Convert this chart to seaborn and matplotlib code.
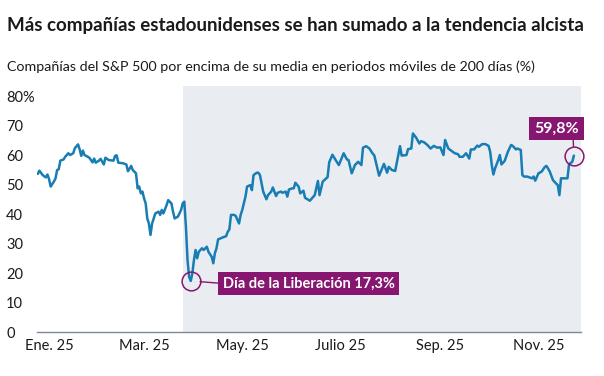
import pandas as pd
import numpy as np
import seaborn as sns
import matplotlib.pyplot as plt
import matplotlib.dates as mdates

# % of S&P 500 companies above their 200-day moving average
dates = [
    "2024-12-25", "2024-12-26", "2024-12-28", "2024-12-30", "2024-12-31",
    "2025-01-01", "2025-01-02", "2025-01-04", "2025-01-05", "2025-01-06",
    "2025-01-07", "2025-01-08", "2025-01-10", "2025-01-11", "2025-01-13",
    "2025-01-14", "2025-01-16", "2025-01-17", "2025-01-19", "2025-01-20",
    "2025-01-21", "2025-01-22", "2025-01-23", "2025-01-24", "2025-01-26",
    "2025-01-28", "2025-01-29", "2025-01-30", "2025-02-01", "2025-02-02",
    "2025-02-04", "2025-02-05", "2025-02-07", "2025-02-10", "2025-02-11",
    "2025-02-12", "2025-02-13", "2025-02-16", "2025-02-18", "2025-02-19",
    "2025-02-21", "2025-02-22", "2025-02-24", "2025-02-25", "2025-02-26",
    "2025-02-27", "2025-02-28", "2025-03-01", "2025-03-02", "2025-03-03",
    "2025-03-04", "2025-03-05", "2025-03-06", "2025-03-07", "2025-03-08",
    "2025-03-10", "2025-03-11", "2025-03-12", "2025-03-13", "2025-03-15",
    "2025-03-16", "2025-03-18", "2025-03-19", "2025-03-20", "2025-03-22",
    "2025-03-23", "2025-03-24", "2025-03-25", "2025-03-26", "2025-03-27",
    "2025-03-28", "2025-03-29", "2025-03-30", "2025-03-31", "2025-04-01",
    "2025-04-02", "2025-04-03", "2025-04-04", "2025-04-06", "2025-04-07",
    "2025-04-09", "2025-04-10", "2025-04-12", "2025-04-13", "2025-04-14",
    "2025-04-15", "2025-04-16", "2025-04-19", "2025-04-21", "2025-04-22",
    "2025-04-23", "2025-04-24", "2025-04-26", "2025-04-27", "2025-04-29",
    "2025-04-30", "2025-05-01", "2025-05-03", "2025-05-04", "2025-05-06",
    "2025-05-07", "2025-05-08", "2025-05-10", "2025-05-11", "2025-05-12",
    "2025-05-14", "2025-05-16", "2025-05-17", "2025-05-19", "2025-05-20",
    "2025-05-22", "2025-05-23", "2025-05-25", "2025-05-26", "2025-05-28",
    "2025-05-29", "2025-05-30", "2025-06-01", "2025-06-02", "2025-06-03",
    "2025-06-05", "2025-06-06", "2025-06-08", "2025-06-09", "2025-06-12",
    "2025-06-15", "2025-06-17", "2025-06-18", "2025-06-20", "2025-06-23",
    "2025-06-24", "2025-06-26", "2025-06-28", "2025-06-30", "2025-07-03",
    "2025-07-05", "2025-07-06", "2025-07-08", "2025-07-10", "2025-07-12",
    "2025-07-14", "2025-07-15", "2025-07-17", "2025-07-19", "2025-07-21",
    "2025-07-22", "2025-07-25", "2025-07-28", "2025-07-30", "2025-07-31",
    "2025-08-02", "2025-08-04", "2025-08-07", "2025-08-08", "2025-08-11",
    "2025-08-12", "2025-08-14", "2025-08-15", "2025-08-17", "2025-08-19",
    "2025-08-20", "2025-08-22", "2025-08-24", "2025-08-26", "2025-08-28",
    "2025-08-30", "2025-09-01", "2025-09-03", "2025-09-04", "2025-09-06",
    "2025-09-08", "2025-09-10", "2025-09-12", "2025-09-13", "2025-09-15",
    "2025-09-17", "2025-09-19", "2025-09-20", "2025-09-22", "2025-09-24",
    "2025-09-25", "2025-09-27", "2025-09-29", "2025-10-01", "2025-10-02",
    "2025-10-03", "2025-10-04", "2025-10-05", "2025-10-07", "2025-10-08",
    "2025-10-09", "2025-10-11", "2025-10-13", "2025-10-15", "2025-10-16",
    "2025-10-18", "2025-10-19", "2025-10-21", "2025-10-22", "2025-10-23",
    "2025-10-25", "2025-10-28", "2025-10-29", "2025-10-30", "2025-11-01",
    "2025-11-03", "2025-11-05", "2025-11-06", "2025-11-08", "2025-11-10",
    "2025-11-12", "2025-11-13", "2025-11-14", "2025-11-15", "2025-11-17",
    "2025-11-19", "2025-11-20", "2025-11-22", "2025-11-23",
]
pct_above = [
    53.6, 54.7, 53.2, 52.4, 53.4, 51.8, 49.3, 51.0, 52.1, 54.9,
    55.2, 58.1, 58.5, 59.4, 60.6, 60.0, 60.6, 62.3, 63.6, 61.9,
    59.7, 61.5, 60.0, 59.7, 59.1, 57.5, 58.8, 57.4, 58.1, 58.7,
    56.8, 59.1, 58.3, 58.1, 59.7, 59.9, 57.4, 57.2, 56.8, 54.5,
    56.3, 54.9, 53.8, 48.7, 49.3, 47.0, 47.6, 45.3, 43.6, 38.5,
    36.8, 32.9, 36.8, 38.5, 40.2, 40.8, 39.7, 41.4, 40.2, 43.0,
    44.7, 43.6, 40.8, 38.5, 39.1, 40.2, 41.4, 43.6, 44.2, 35.7,
    24.4, 18.7, 17.3, 19.9, 24.4, 27.8, 25.0, 27.2, 28.4, 27.8,
    28.9, 27.2, 25.5, 23.3, 26.7, 28.4, 31.4, 32.1, 32.5, 34.0,
    34.8, 39.7, 39.7, 39.3, 36.8, 39.7, 41.4, 45.9, 49.3, 49.8,
    48.1, 53.2, 54.0, 54.0, 53.2, 47.6, 45.0, 46.4, 47.6, 49.0,
    46.1, 47.2, 47.6, 47.2, 47.6, 45.9, 48.3, 48.7, 48.7, 50.6,
    49.3, 47.0, 47.9, 45.5, 44.5, 46.4, 51.2, 46.4, 51.0, 52.5,
    57.5, 60.1, 58.3, 56.6, 60.6, 58.5, 58.3, 53.8, 56.6, 57.7,
    56.6, 62.5, 63.0, 62.2, 60.5, 59.9, 53.0, 57.0, 54.0, 56.0,
    54.9, 54.6, 63.0, 59.8, 60.0, 62.0, 62.2, 67.3, 65.9, 63.9,
    64.7, 64.3, 63.4, 62.2, 63.1, 62.5, 62.6, 60.0, 65.1, 62.2,
    61.4, 60.6, 60.3, 59.4, 59.4, 60.6, 58.8, 61.9, 61.9, 63.2,
    62.8, 63.7, 63.7, 63.1, 61.1, 56.6, 53.4, 55.4, 58.3, 60.0,
    56.8, 58.0, 61.1, 63.4, 63.1, 61.9, 62.2, 61.7, 53.2, 52.7,
    52.7, 52.1, 52.7, 51.3, 53.8, 54.4, 56.0, 56.3, 54.4, 51.5,
    50.3, 49.8, 46.4, 52.1, 52.1, 52.1, 56.9, 57.7, 59.8,
]

tick_dates = ["2025-01-01", "2025-03-01", "2025-05-01", "2025-07-01", "2025-09-01", "2025-11-01"]
tick_labels = ["Ene. 25", "Mar. 25", "May. 25", "Julio 25", "Sep. 25", "Nov. 25"]
y_ticks = [0, 10, 20, 30, 40, 50, 60, 70, 80]
y_labels = ["0", "10", "20", "30", "40", "50", "60", "70", "80%"]

shade_start = "2025-03-25 10:00"
low_date, low_label = "2025-03-30", "Día de la Liberación 17,3%"
last_label = "59,8%"

title = "Más compañías estadounidenses se han sumado a la tendencia alcista"
subtitle = "Compañías del S&P 500 por encima de su media en periodos móviles de 200 días (%)"

blue = "#177db4"
purple = "#86166f"
shade = "#e9edf1"
txt = "#1a1a1a"

df = pd.DataFrame({"fecha": pd.to_datetime(dates), "pct": pct_above})

sns.set_style("white")
plt.rcParams["font.family"] = ["Lato", "DejaVu Sans"]

fig = plt.figure(figsize=(6.04, 3.76), dpi=100)
ax = fig.add_axes([37 / 604, 44 / 376, 544 / 604, 246 / 376])

xmax = pd.Timestamp("2025-11-27 10:00")
ax.axvspan(pd.Timestamp(shade_start), xmax, color=shade, lw=0, zorder=0)
sns.lineplot(data=df, x="fecha", y="pct", ax=ax, color=blue, lw=1.8, zorder=3)

ax.set_xlim(pd.Timestamp("2024-12-24 12:00"), xmax)
ax.set_ylim(0, 83.4)
ax.set_xticks(pd.to_datetime(tick_dates))
ax.set_xticklabels(tick_labels)
ax.set_yticks(y_ticks)
ax.set_yticklabels(y_labels, ha="left")
ax.tick_params(axis="y", length=0, pad=22.3, labelsize=10.5, labelcolor=txt)
ax.tick_params(axis="x", length=0, pad=5, labelsize=10.5, labelcolor=txt)
ax.set_xlabel("")
ax.set_ylabel("")
for s in ["top", "right", "left"]:
    ax.spines[s].set_visible(False)
ax.spines["bottom"].set_color("#7d8996")
ax.spines["bottom"].set_linewidth(1)

# annotations
low_x = pd.Timestamp(low_date)
low_y = df.loc[df["fecha"] == low_x, "pct"].iloc[0]
end_x = df["fecha"].iloc[-1]
end_y = df["pct"].iloc[-1]
for (px, py) in [(low_x, low_y), (end_x, end_y)]:
    ax.plot([px], [py], marker="o", ms=13.5, mfc="none", mec=purple, mew=1.1, zorder=4, clip_on=False)

ax.annotate(low_label, xy=(low_x, low_y), xytext=(85, -1.8), textcoords="offset points",
            ha="center", va="center", color="white", fontsize=10.5, fontweight="bold",
            bbox=dict(boxstyle="square,pad=0.3", fc=purple, ec="none"),
            arrowprops=dict(arrowstyle="-", color=purple, lw=1, relpos=(0, 0.5),
                            shrinkA=0, shrinkB=6.7))
ax.annotate(last_label, xy=(end_x, end_y), xytext=(-12.5, 19.5), textcoords="offset points",
            ha="center", va="center", color="white", fontsize=11.5, fontweight="bold",
            bbox=dict(boxstyle="square,pad=0.3", fc=purple, ec="none"),
            arrowprops=dict(arrowstyle="-", color=purple, lw=1, relpos=(0.87, 0),
                            shrinkA=0, shrinkB=6.7))

fig.text(7 / 604, 1 - 26 / 376, title, fontsize=13.5, fontweight="bold", color=txt, va="center")
fig.text(7 / 604, 1 - 67 / 376, subtitle, fontsize=10.3, color=txt, va="center")

fig.savefig("out.png", dpi=100)
